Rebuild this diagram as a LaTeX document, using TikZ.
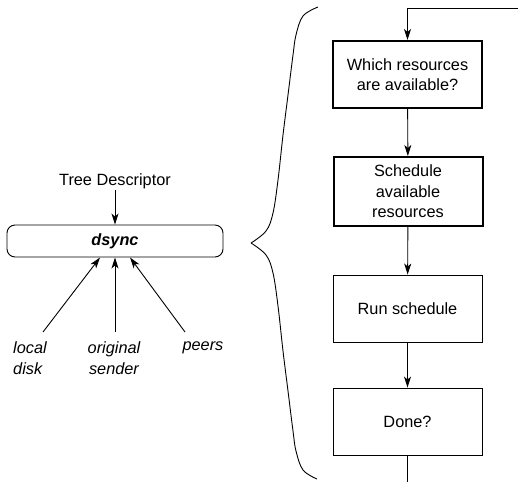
\documentclass[tikz,border=0pt]{standalone}
\usepackage{fontspec}
\setmainfont{Liberation Sans}
\usetikzlibrary{arrows.meta}
\tikzset{
  every node/.style={font=\fontsize{16.3}{20.5}\selectfont},
  stepbox/.style={draw, line width=#1, minimum width=149pt, minimum height=67pt, align=center, inner sep=0pt},
  arr/.style={-{Stealth[length=11pt,width=7pt,inset=3pt]}, line width=0.9pt},
  plain/.style={line width=0.9pt},
  lbl/.style={font=\fontsize{16.3}{20.5}\selectfont\itshape, align=left, inner sep=0pt}
}
\begin{document}
\begin{tikzpicture}[x=1pt,y=-1pt]
\useasboundingbox (0,0) rectangle (518,482);
% left part
\node[draw, rounded corners=8pt, line width=0.9pt, minimum width=216pt, minimum height=32pt, inner sep=0pt, font=\fontsize{16.3}{20.5}\selectfont\bfseries\itshape] (dsync) at (115,241) {dsync};
\node[inner sep=0pt] (tree) at (115,181) {Tree Descriptor};
\draw[arr] (tree.south |- 0,190) -- (dsync.north);
\node[lbl, anchor=west] (local) at (13,358) {local\\disk};
\node[lbl, align=center] (orig) at (114,358) {original\\sender};
\node[lbl] (peers) at (203,348) {peers};
\coordinate (s1) at (43,332);
\coordinate (s2) at (115,332);
\coordinate (s3) at (185,332);
\coordinate (t1) at (100,257.5);
\coordinate (t3) at (130,257.5);
\draw[arr] (s1) -- (t1);
\draw[arr] (s2) -- (dsync.south);
\draw[arr] (s3) -- (t3);
% brace
\draw[line width=0.9pt] plot[smooth, tension=0.6] coordinates {(318,7) (303,16) (296,35) (293,55) (288,95) (283,135) (278,180) (273,213) (266,231) (251,243)};
\draw[line width=0.9pt] plot[smooth, tension=0.6] coordinates {(251,243) (266,255) (273,273) (278,306) (283,351) (288,391) (293,431) (296,451) (303,470) (317,479)};
% flow
\node[stepbox=2pt] (b1) at (407.5,74.5) {Which resources\\are available?};
\node[stepbox=2pt, minimum height=69pt] (b2) at (408,191.5) {Schedule\\available\\resources};
\node[stepbox=0.9pt] (b3) at (407.5,308.5) {Run schedule};
\node[stepbox=0.9pt] (b4) at (407.5,421.5) {Done?};
\coordinate (loopin) at (518,8);
\coordinate (out) at (405,482);
\draw[arr] (loopin) -| (b1.north);
\draw[arr] (b1) -- (b2);
\draw[arr] (b2) -- (b3);
\draw[arr] (b3) -- (b4);
\draw[plain] (b4.south) -- (b4.south |- out);
\end{tikzpicture}
\end{document}
